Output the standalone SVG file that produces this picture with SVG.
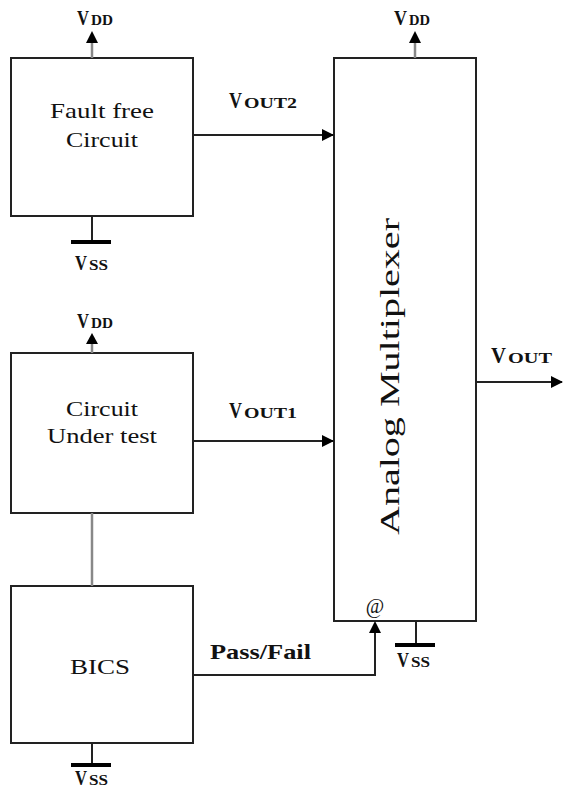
<svg xmlns="http://www.w3.org/2000/svg" width="563" height="790" viewBox="0 0 563 790">
<defs>
<marker id="ah" markerWidth="12" markerHeight="12" refX="11" refY="6" orient="auto" markerUnits="userSpaceOnUse">
<path d="M0,0 L12,6 L0,12 Z" fill="#000"/>
</marker>
</defs>
<style>
.box{fill:#fff;stroke:#222;stroke-width:2}
.w{stroke:#222;stroke-width:2;fill:none}
.g{stroke:#888;stroke-width:2.5;fill:none}
.t{font-family:"Liberation Serif","Times New Roman",serif;fill:#111}
.lb{font-size:21px}
.b{font-weight:bold}
.big{font-size:20px;font-weight:bold}
.sub{font-size:14px;font-weight:bold}
.vb{font-size:23px;font-weight:bold}
.vs{font-size:15px;font-weight:bold}
.bar{fill:#000}
</style>
<g id="fault-free">
<rect class="box" x="11" y="58" width="182" height="158"/>
<text class="t lb" x="102" y="118" text-anchor="middle" textLength="104" lengthAdjust="spacingAndGlyphs">Fault free</text>
<text class="t lb" x="102" y="147" text-anchor="middle" textLength="72" lengthAdjust="spacingAndGlyphs">Circuit</text>
</g>
<g id="fault-free-vdd">
<line class="g" x1="92" y1="58" x2="92" y2="40"/>
<path class="bar" d="M92,31 L98,43 L86,43 Z"/>
<text class="t big" x="77" y="25" textLength="12" lengthAdjust="spacingAndGlyphs">V</text>
<text class="t sub" x="91" y="25" textLength="22" lengthAdjust="spacingAndGlyphs">DD</text>
</g>
<g id="fault-free-vss">
<line class="w" x1="92" y1="216" x2="92" y2="242"/>
<rect class="bar" x="71" y="240" width="40" height="4"/>
<text class="t big" x="75" y="270" textLength="12" lengthAdjust="spacingAndGlyphs">V</text>
<text class="t sub" x="89" y="270" textLength="19" lengthAdjust="spacingAndGlyphs">SS</text>
</g>
<g id="cut">
<rect class="box" x="11" y="353" width="182" height="160"/>
<text class="t lb" x="102" y="416" text-anchor="middle" textLength="72" lengthAdjust="spacingAndGlyphs">Circuit</text>
<text class="t lb" x="102" y="443" text-anchor="middle" textLength="110" lengthAdjust="spacingAndGlyphs">Under test</text>
</g>
<g id="cut-vdd">
<line class="g" x1="92" y1="353" x2="92" y2="342"/>
<path class="bar" d="M92,333 L98,344 L86,344 Z"/>
<text class="t big" x="77" y="328" textLength="12" lengthAdjust="spacingAndGlyphs">V</text>
<text class="t sub" x="91" y="328" textLength="22" lengthAdjust="spacingAndGlyphs">DD</text>
</g>
<g id="bics">
<rect class="box" x="11" y="586" width="182" height="157"/>
<text class="t lb" x="100" y="674" text-anchor="middle" textLength="60" lengthAdjust="spacingAndGlyphs">BICS</text>
</g>
<g id="bics-vss">
<line class="w" x1="92" y1="743" x2="92" y2="765"/>
<rect class="bar" x="71" y="763" width="40" height="4"/>
<text class="t big" x="75" y="785" textLength="12" lengthAdjust="spacingAndGlyphs">V</text>
<text class="t sub" x="89" y="785" textLength="19" lengthAdjust="spacingAndGlyphs">SS</text>
</g>
<g id="mux">
<rect class="box" x="334" y="58" width="142" height="563"/>
<text class="t" style="font-size:27px" transform="translate(399,535) rotate(-90)" textLength="317" lengthAdjust="spacingAndGlyphs">Analog Multiplexer</text>
<text class="t" style="font-size:20px" x="375" y="613" text-anchor="middle">@</text>
</g>
<g id="mux-vdd">
<line class="g" x1="415" y1="58" x2="415" y2="40"/>
<path class="bar" d="M415,31 L421,43 L409,43 Z"/>
<text class="t big" x="394" y="25" textLength="13" lengthAdjust="spacingAndGlyphs">V</text>
<text class="t sub" x="409" y="25" textLength="21" lengthAdjust="spacingAndGlyphs">DD</text>
</g>
<g id="mux-vss">
<line class="w" x1="416" y1="621" x2="416" y2="645"/>
<rect class="bar" x="395" y="643" width="40" height="4"/>
<text class="t big" x="397" y="667" textLength="12" lengthAdjust="spacingAndGlyphs">V</text>
<text class="t sub" x="411" y="667" textLength="19" lengthAdjust="spacingAndGlyphs">SS</text>
</g>
<g id="connectors">
<line class="w" x1="193" y1="135" x2="333" y2="135" marker-end="url(#ah)"/>
<line class="w" x1="193" y1="441" x2="333" y2="441" marker-end="url(#ah)"/>
<line class="g" x1="92" y1="513" x2="92" y2="586"/>
<polyline class="w" points="193,675 375,675 375,633"/>
<path class="bar" d="M375,621 L381,633 L369,633 Z"/>
<line class="w" x1="476" y1="382" x2="562" y2="382" marker-end="url(#ah)"/>
</g>
<g id="labels">
<text class="t vb" x="229" y="108" textLength="13" lengthAdjust="spacingAndGlyphs">V</text>
<text class="t vs" x="244" y="108" textLength="53" lengthAdjust="spacingAndGlyphs">OUT2</text>
<text class="t vb" x="229" y="418" textLength="13" lengthAdjust="spacingAndGlyphs">V</text>
<text class="t vs" x="244" y="418" textLength="53" lengthAdjust="spacingAndGlyphs">OUT1</text>
<text class="t vb" x="491" y="363" textLength="15" lengthAdjust="spacingAndGlyphs">V</text>
<text class="t vs" x="508" y="363" textLength="44" lengthAdjust="spacingAndGlyphs">OUT</text>
<text class="t b" style="font-size:22px" x="210" y="659" textLength="101" lengthAdjust="spacingAndGlyphs">Pass/Fail</text>
</g>
</svg>
